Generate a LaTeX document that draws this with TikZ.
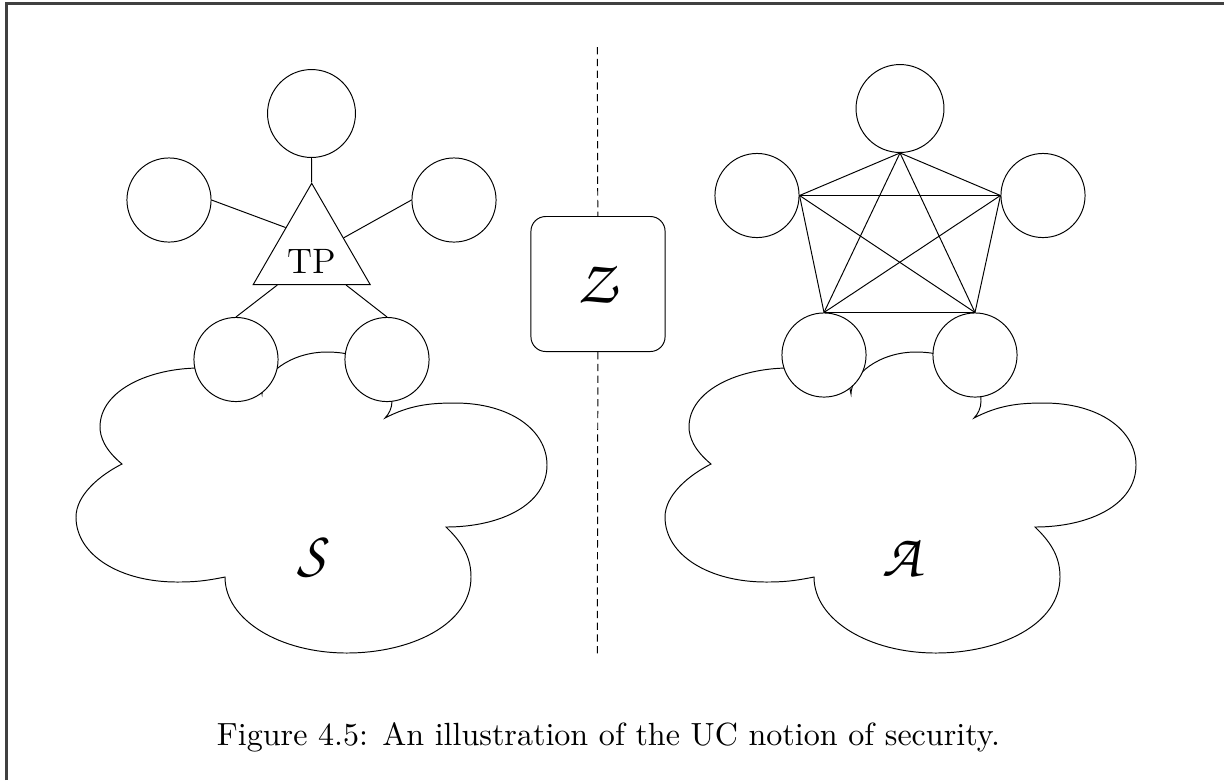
\documentclass[tikz,border=0pt]{standalone}
\usepackage{amsmath,amssymb}
\usepackage{tikz}
\usetikzlibrary{positioning,calc,shapes.geometric}
\DeclareMathAlphabet{\mathpzc}{OT1}{pzc}{m}{it}

\tikzset{
  party/.style={circle,draw,fill=white,minimum size=28.6pt,inner sep=0pt},
  topparty/.style={party,minimum size=29.9pt},
  frameline/.style={draw=black!75,line width=0.7pt},
}

\begin{document}
\begin{tikzpicture}[x=0.34pt,y=-0.34pt,line width=0.33pt]
  \useasboundingbox (0,0) rectangle (1224,780);
  \draw[frameline] (6.5,780) -- (6.5,3.5) -- (1224,3.5);

  % the two clouds (simulator / adversary)
  \foreach \dx/\name in {0/S,589/A} {
    \begin{scope}[shift={(\dx,0)}]
      \draw (122,464) .. controls (105,450) and (100,437) .. (100,427)
        .. controls (100,390) and (150,368) .. (200,368)
        .. controls (240,368) and (262,380) .. (262,394)
        .. controls (262,375) and (290,352) .. (327,352)
        .. controls (370,352) and (392,375) .. (392,401)
        .. controls (392,408) and (389,414) .. (385,418)
        .. controls (410,405) and (430,403) .. (455,403)
        .. controls (510,403) and (547,430) .. (547,465)
        .. controls (547,505) and (500,527) .. (446,527)
        .. controls (465,545) and (471,560) .. (471,577)
        .. controls (471,625) and (410,653) .. (347,653)
        .. controls (280,653) and (225,620) .. (225,577)
        .. controls (205,581) and (195,582) .. (177,582)
        .. controls (120,582) and (76,555) .. (76,517)
        .. controls (76,495) and (100,475) .. cycle;
      \node (cloud\name) at (315,557) {\huge$\mathpzc{\name}$};
    \end{scope}
  }

  % ideal world
  \node[topparty] (s1) at (311.5,113.5) {};
  \node[party] (s2) at (169,200) {};
  \node[party] (s3) at (454,200) {};
  \node[party] (s4) at (236,359.5) {};
  \node[party] (s5) at (387,359.5) {};
  \node[draw,regular polygon,regular polygon sides=3,minimum size=45.9pt,inner sep=0pt,
        label={[yshift=-3.7pt]center:\large TP}] (tp) at (311.7,250.8) {};
  \draw (s1.south) -- (tp.corner 1);
  \draw (s2.east) -- ($(tp.corner 1)!0.44!(tp.corner 2)$);
  \draw (s3.west) -- ($(tp.corner 1)!0.54!(tp.corner 3)$);
  \draw (s4.north) -- ($(tp.corner 2)!0.21!(tp.corner 3)$);
  \draw (s5.north) -- ($(tp.corner 2)!0.79!(tp.corner 3)$);

  % environment
  \node[draw,rounded corners=5pt,minimum width=45.6pt,minimum height=45.9pt] (env) at (598,284) {\huge$\mathpzc{Z}$};
  \coordinate (wtop) at (597.3,47);
  \coordinate (wbot) at (597.3,655);
  \draw[dash pattern=on 2.5pt off 1.5pt] (wtop) -- (env);
  \draw[dash pattern=on 2.5pt off 1.5pt] (env) -- (wbot);

  % real world
  \node[topparty] (q1) at (900,108.5) {};
  \node[party] (q2) at (757,195.5) {};
  \node[party] (q3) at (1043,195.5) {};
  \node[party] (q4) at (824,355) {};
  \node[party] (q5) at (975,355) {};
  \foreach \a/\b in {q1.south/q2.east,q1.south/q3.west,q1.south/q4.north,q1.south/q5.north,
                     q2.east/q3.west,q2.east/q4.north,q2.east/q5.north,
                     q3.west/q4.north,q3.west/q5.north,q4.north/q5.north}
    \draw (\a) -- (\b);

  \node[anchor=base,font=\fontsize{10.9}{13}\selectfont] (caption) at (608.5,745) {Figure 4.5: An illustration of the UC notion of security.};
\end{tikzpicture}
\end{document}
